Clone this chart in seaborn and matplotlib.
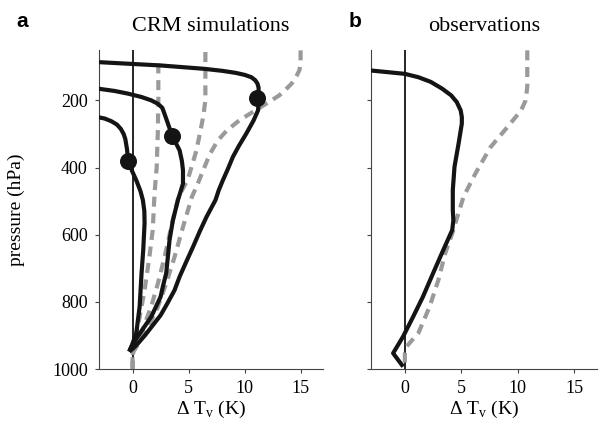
import numpy as np
import matplotlib as mpl
import matplotlib.pyplot as plt
import seaborn as sns

# CRM simulations, solid black profiles (pressure in hPa, dTv in K)
p_crm1 = [86, 96, 106, 112, 118, 124, 131, 140, 150, 162, 175, 192, 210, 230, 260, 299,
          335, 368, 405, 438, 467, 497, 547, 590, 636, 680, 725, 765, 805, 840, 870, 900,
          925, 940, 948]
t_crm1 = [-3.1, 2.5, 6.4, 8.0, 9.2, 10.0, 10.6, 10.95, 11.15, 11.25, 11.25, 11.15, 11.25,
          11.2, 10.8, 10.15, 9.5, 8.96, 8.5, 8.06, 7.7, 7.4, 6.6, 6.0, 5.4, 4.8, 4.2, 3.75,
          3.1, 2.5, 1.8, 1.1, 0.45, 0.0, -0.3]

p_crm2 = [165, 172, 180, 190, 200, 210, 222, 240, 259, 306, 349, 380, 408, 448, 497, 557,
          616, 666, 715, 755, 785, 844, 903, 933, 948]
t_crm2 = [-3.1, -1.6, -0.4, 0.8, 1.67, 2.25, 2.65, 2.85, 3.05, 3.54, 4.2, 4.4, 4.5, 4.5,
          4.05, 3.6, 3.3, 3.15, 3.0, 2.7, 2.5, 1.67, 0.47, -0.1, -0.3]

p_crm3 = [250, 254, 262, 272, 285, 300, 315, 345, 378, 410, 438, 470, 497, 530, 566, 646,
          715, 814, 893, 933, 948]
t_crm3 = [-3.1, -2.5, -1.9, -1.4, -1.05, -0.8, -0.65, -0.5, -0.4, -0.05, 0.33, 0.7, 0.92,
          1.05, 1.07, 0.95, 0.8, 0.63, 0.33, -0.1, -0.3]

# dots on the CRM profiles
p_dots = [192, 306, 381]
t_dots = [11.15, 3.54, -0.4]

# CRM simulations, grey dashed profiles
p_dash1 = [90, 200, 300, 400, 477, 586, 666, 765, 874, 943, 1000]
t_dash1 = [2.3, 2.3, 2.25, 2.15, 1.96, 1.8, 1.5, 1.07, 0.47, 0.03, 0.0]

p_dash2 = [56, 200, 250, 300, 349, 400, 438, 487, 577, 666, 745, 810, 874, 920, 950, 1000]
t_dash2 = [6.5, 6.5, 6.3, 6.0, 5.7, 5.25, 4.9, 4.1, 3.45, 2.86, 2.26, 1.7, 1.0, 0.4, 0.0, 0.0]

p_dash3 = [51, 90, 110, 130, 150, 170, 185, 200, 225, 259, 290, 320, 360, 408, 450, 487,
           577, 666, 745, 820, 874, 920, 950, 1000]
t_dash3 = [15.0, 15.0, 14.9, 14.6, 14.2, 13.6, 13.1, 12.4, 11.2, 9.55, 8.4, 7.6, 6.9, 6.3,
           5.8, 5.3, 4.5, 3.75, 3.0, 2.2, 1.4, 0.6, 0.05, 0.0]

# observations
p_obs = [111, 121, 131, 145, 165, 185, 205, 230, 250, 269, 300, 329, 398, 467, 527, 557,
         586, 646, 715, 785, 844, 903, 953, 993]
t_obs = [-3.0, 0.0, 1.2, 2.3, 3.3, 4.1, 4.6, 4.95, 5.05, 5.05, 4.9, 4.76, 4.4, 4.25, 4.25,
         4.3, 4.2, 3.4, 2.5, 1.6, 0.74, -0.15, -1.04, -0.15]

p_obs_d = [51, 160, 200, 230, 279, 339, 418, 487, 596, 656, 735, 814, 893, 933, 953, 1000]
t_obs_d = [10.85, 10.85, 10.7, 10.3, 9.1, 7.6, 6.25, 5.2, 4.2, 3.57, 2.97, 2.2, 1.2, 0.15,
           0.0, 0.0]

xticks = [0, 5, 10, 15]
yticks = [200, 400, 600, 800, 1000]

sns.set_style('ticks')
plt.rcParams['font.family'] = ['Liberation Serif', 'DejaVu Serif']
plt.rcParams['mathtext.fontset'] = 'custom'
plt.rcParams['mathtext.rm'] = 'Liberation Serif'
plt.rcParams['text.color'] = 'black'
plt.rcParams['axes.labelcolor'] = 'black'
plt.rcParams['xtick.labelcolor'] = 'black'
plt.rcParams['ytick.labelcolor'] = 'black'

BLK = '#141414'
GRY = '#9a9a9a'
DASH = (0, (2.4, 1.6))

fig = plt.figure(figsize=(6.01, 4.33), dpi=100)
ax_a = fig.add_axes([0.1647, 0.1478, 0.3727, 0.7367])
ax_b = fig.add_axes([0.6173, 0.1478, 0.3755, 0.7367])


def solid(ax, t, p):
    sns.lineplot(x=t, y=p, ax=ax, sort=False, estimator=None, color=BLK, lw=3,
                 solid_capstyle='butt', solid_joinstyle='round', zorder=3)


def dashed(ax, t, p):
    sns.lineplot(x=t, y=p, ax=ax, sort=False, estimator=None, color=GRY, lw=3,
                 linestyle=DASH, dash_capstyle='butt', zorder=2)


for t, p in [(t_dash1, p_dash1), (t_dash2, p_dash2), (t_dash3, p_dash3)]:
    dashed(ax_a, t, p)
for t, p in [(t_crm1, p_crm1), (t_crm2, p_crm2), (t_crm3, p_crm3)]:
    solid(ax_a, t, p)
sns.scatterplot(x=t_dots, y=p_dots, ax=ax_a, color=BLK, s=150, linewidth=0, zorder=4)

dashed(ax_b, t_obs_d, p_obs_d)
solid(ax_b, t_obs, p_obs)

for ax in (ax_a, ax_b):
    ax.axvline(0, color=BLK, lw=1.3, zorder=1)
    ax.set_xlim(-3, 17)
    ax.set_ylim(1000, 50)
    ax.set_xticks(xticks)
    ax.set_yticks(yticks)
    sns.despine(ax=ax)
    for s in ('left', 'bottom'):
        ax.spines[s].set_color('#444444')
        ax.spines[s].set_linewidth(0.8)
    ax.tick_params(direction='out', length=3, width=0.8, color='#444444',
                   labelsize=13, pad=5)
    ax.set_xlabel('Δ T$_\\mathrm{v}$ (K)', fontsize=14)
    ax.xaxis.set_label_coords(0.5, -0.095)
    ax.xaxis.label.set_va('top')

ax_a.set_ylabel('pressure (hPa)', fontsize=14)
ax_a.yaxis.set_label_coords(-0.33, 0.5)
ax_b.set_yticklabels([])
ax_b.set_ylabel('')

ax_a.set_title('CRM simulations', fontsize=16, pad=14)
ax_b.set_title('observations', fontsize=16, pad=14)

fig.text(16 / 601, 1 - 27 / 433, 'a', fontsize=15, fontweight='bold',
         family='Liberation Sans', va='baseline')
fig.text(349 / 601, 1 - 27 / 433, 'b', fontsize=15, fontweight='bold',
         family='Liberation Sans', va='baseline')

fig.savefig('out.png', dpi=100)
